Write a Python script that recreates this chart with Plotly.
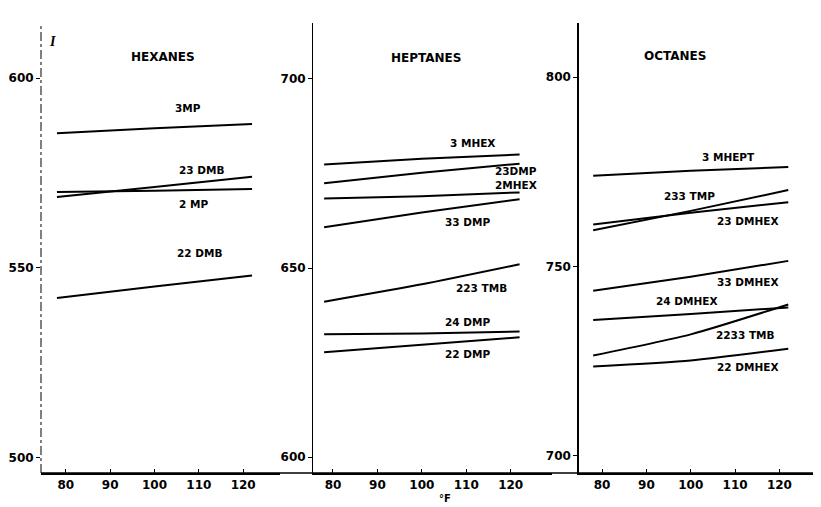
import plotly.graph_objects as go

# ---- data ----
temps = [78, 100, 122]  # deg F

hex_names = ["3MP", "23 DMB", "2 MP", "22 DMB"]
hex_vals = [
    [585.5, 586.8, 587.9],
    [568.7, 571.3, 574.0],
    [570.0, 570.3, 570.8],
    [542.1, 545.1, 548.0],
]

hep_names = ["3 MHEX", "23DMP", "2MHEX", "33 DMP", "223 TMB", "24 DMP", "22 DMP"]
hep_vals = [
    [677.4, 678.9, 680.0],
    [672.4, 675.2, 677.6],
    [668.4, 669.0, 670.0],
    [660.8, 664.7, 668.2],
    [641.1, 645.7, 651.0],
    [632.5, 632.7, 633.2],
    [627.7, 629.7, 631.7],
]

oct_names = ["3 MHEPT", "233 TMP", "23 DMHEX", "33 DMHEX", "24 DMHEX", "2233 TMB", "22 DMHEX"]
oct_vals = [
    [774.0, 775.3, 776.3],
    [759.6, 764.7, 770.2],
    [761.1, 764.2, 767.0],
    [743.6, 747.3, 751.5],
    [735.9, 737.5, 739.2],
    [726.5, 732.1, 740.0],
    [723.6, 725.2, 728.3],
]

# label positions (x in deg F, y in index units)
hex_lab = [(107.5, 592.1), (110.7, 575.8), (108.7, 566.8), (110.2, 553.9)]
hep_lab = [(111.5, 683.0), (121.3, 675.6), (121.3, 672.0), (110.3, 662.2),
           (113.5, 644.7), (110.3, 635.7), (110.3, 627.2)]
oct_lab = [(108.5, 779.0), (99.8, 768.7), (112.8, 762.1), (112.8, 746.0),
           (99.1, 741.0), (112.4, 732.0), (112.8, 723.5)]

panel_titles = ["HEXANES", "HEPTANES", "OCTANES"]
title_pos = [(101.8, 605.5), (101.0, 705.5), (96.5, 805.5)]
y_ticks = [[500, 550, 600], [600, 650, 700], [700, 750, 800]]
x_ticks = [80, 90, 100, 110, 120]
x_title = "°F"

# page body has an 8px margin: draw a figure that fits inside it
OFF = 8
W, H = 821 - OFF, 507 - OFF
fig = go.Figure()

panels = [
    (hex_names, hex_vals, hex_lab),
    (hep_names, hep_vals, hep_lab),
    (oct_names, oct_vals, oct_lab),
]
px_dom = [(41, 280), (313, 552), (579, 818)]
domains = [[(a - OFF) / W, min(1.0, (b - OFF) / W)] for a, b in px_dom]
xranges = [[74.4, 128.3], [75.5, 129.3], [74.8, 128.7]]
yranges = [[496.0, 614.5], [595.8, 714.8], [695.5, 814.3]]

FONT = "DejaVu Sans, Liberation Sans, sans-serif"
font_lab = dict(family=FONT, size=10.5, color="black")

for i, (names, vals, labs) in enumerate(panels):
    xa = "x" if i == 0 else f"x{i+1}"
    ya = "y" if i == 0 else f"y{i+1}"
    for name, v, (lx, ly) in zip(names, vals, labs):
        fig.add_trace(go.Scatter(x=temps, y=v, mode="lines", name=name,
                                 line=dict(color="black", width=2, shape="spline",
                                           smoothing=0.6),
                                 xaxis=xa, yaxis=ya, showlegend=False))
        fig.add_annotation(x=lx, y=ly, xref=xa, yref=ya, text=f"<b>{name}</b>",
                           showarrow=False, font=font_lab)
    tx, ty = title_pos[i]
    fig.add_annotation(x=tx, y=ty, xref=xa, yref=ya, text=f"<b>{panel_titles[i]}</b>",
                       showarrow=False, font=dict(family=FONT, size=12, color="black"))

    axis_common = dict(showgrid=False, zeroline=False, color="black", automargin=False,
                       tickfont=dict(family=FONT, size=12, color="black"))
    xkey = "xaxis" if i == 0 else f"xaxis{i+1}"
    ykey = "yaxis" if i == 0 else f"yaxis{i+1}"
    fig.update_layout(**{
        xkey: dict(domain=domains[i], range=xranges[i], anchor=ya,
                   tickvals=x_ticks, ticktext=[f"<b>{t}</b>" for t in x_ticks],
                   ticks="inside", ticklen=4, tickwidth=1.2, tickcolor="black",
                   showline=True, linecolor="black", linewidth=1.5,
                   **axis_common),
        ykey: dict(domain=[0, 1], range=yranges[i], anchor=xa,
                   tickvals=y_ticks[i], ticktext=[f"<b>{t}</b>" for t in y_ticks[i]],
                   ticks="outside", ticklen=4, tickwidth=1.2, tickcolor="black",
                   showline=(i != 0), linecolor="black",
                   linewidth=1.5 if i == 2 else 1.0,
                   **axis_common),
    })

# dash-dotted left axis of the first panel (as in the scan)
fig.add_shape(type="line", xref="paper", yref="paper",
              x0=domains[0][0], x1=domains[0][0], y0=0, y1=1,
              line=dict(color="black", width=1, dash="dashdot"))

# x-axis title under the middle panel
fig.add_annotation(x=105.2, y=-0.056, xref="x2", yref="paper", text=f"<b>{x_title}</b>",
                   yanchor="middle", showarrow=False,
                   font=dict(family=FONT, size=10, color="black"))

# italic index symbol at top-left of first panel
fig.add_annotation(x=77.0, y=609.5, xref="x", yref="y", text="<b><i>I</i></b>",
                   showarrow=False, font=dict(family="Liberation Serif, serif", size=14, color="black"))

# continuous baseline across the panels
fig.add_shape(type="line", xref="paper", yref="paper", x0=(41 - OFF) / W, x1=1.0, y0=0, y1=0,
              line=dict(color="black", width=1.5))

fig.update_layout(width=W, height=H,
                  margin=dict(l=0, r=0, t=23 - OFF, b=507 - 473, autoexpand=False),
                  paper_bgcolor="white", plot_bgcolor="white")

fig.write_html("out.html")
